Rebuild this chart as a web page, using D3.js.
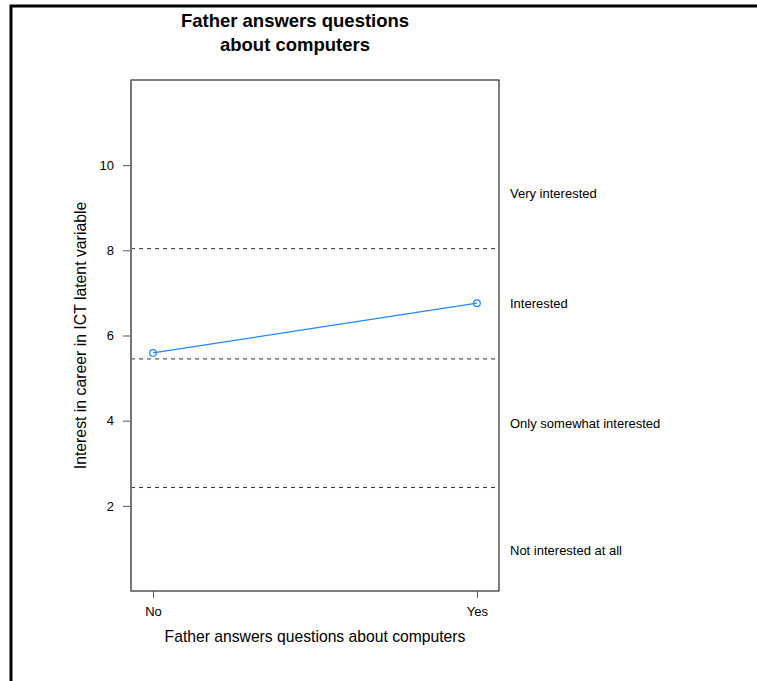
<!DOCTYPE html>
<html>
<head>
<meta charset="utf-8">
<script src="https://cdn.jsdelivr.net/npm/d3@7"></script>
<style>
  html, body { margin: 0; padding: 0; background: #fff; }
  svg { display: block; font-family: "Liberation Sans", Arial, Helvetica, sans-serif; }
</style>
</head>
<body>
<svg id="chart" width="757" height="681"></svg>
<script>
// Predicted latent interest by whether the father answers computer questions
const categories = ["No", "Yes"];
const values = [5.59, 6.76];
const yTicks = [2, 4, 6, 8, 10];
// Cut points between the response categories
const thresholds = [2.43, 5.45, 8.04];
const levelLabels = ["Not interested at all", "Only somewhat interested", "Interested", "Very interested"];
const levelPositions = [0.95, 3.94, 6.75, 9.34];

const svg = d3.select("#chart");
const panel = { left: 131, right: 499, top: 80, bottom: 591 };
const FONT = "'Liberation Sans', Arial, sans-serif";

const x = d3.scaleLinear().domain([0.932, 2.068]).range([panel.left, panel.right]);
const y = d3.scaleLinear().domain([0, 12]).range([panel.bottom, panel.top]);

// Outer figure frame
svg.append("rect")
  .attr("x", 11).attr("y", 6).attr("width", 800).attr("height", 800)
  .attr("fill", "none").attr("stroke", "#000").attr("stroke-width", 3);

// Title
const title = svg.append("text")
  .attr("text-anchor", "middle")
  .attr("font-weight", "bold")
  .attr("font-size", 18.5)
  .attr("fill", "#000");
title.append("tspan").attr("x", 295).attr("y", 27).text("Father answers questions");
title.append("tspan").attr("x", 295).attr("y", 51).text("about computers");

// Panel box
svg.append("rect")
  .attr("x", panel.left).attr("y", panel.top)
  .attr("width", panel.right - panel.left).attr("height", panel.bottom - panel.top)
  .attr("fill", "none").attr("stroke", "#000").attr("stroke-width", 1);

// Threshold lines
svg.append("g").selectAll("line").data(thresholds).join("line")
  .attr("x1", panel.left).attr("x2", panel.right)
  .attr("y1", d => y(d)).attr("y2", d => y(d))
  .attr("stroke", "#333").attr("stroke-width", 1)
  .attr("stroke-dasharray", "4,4");

// Y axis
const yAxis = svg.append("g")
  .attr("transform", `translate(${panel.left},0)`)
  .call(d3.axisLeft(y).tickValues(yTicks).tickSize(8).tickPadding(9).tickFormat(d3.format("d")));
yAxis.select(".domain").remove();
yAxis.selectAll(".tick line").attr("stroke", "#555");
yAxis.selectAll(".tick text").attr("font-size", 13).attr("fill", "#000").attr("font-family", FONT);
svg.append("line")
  .attr("x1", panel.left).attr("x2", panel.left)
  .attr("y1", panel.top).attr("y2", panel.bottom + 0.5)
  .attr("stroke", "#777").attr("stroke-width", 2);

// X axis
const xAxis = svg.append("g")
  .attr("transform", `translate(0,${panel.bottom})`)
  .call(d3.axisBottom(x).tickValues([1, 2]).tickSize(7).tickPadding(9)
    .tickFormat(d => categories[d - 1]));
xAxis.select(".domain").remove();
xAxis.selectAll(".tick line").attr("stroke", "#555");
xAxis.selectAll(".tick text").attr("font-size", 13).attr("fill", "#000").attr("font-family", FONT);

// Axis titles
svg.append("text")
  .attr("x", 315).attr("y", 642)
  .attr("text-anchor", "middle").attr("font-size", 15.7)
  .text("Father answers questions about computers");
svg.append("text")
  .attr("transform", `translate(86,${(panel.top + panel.bottom) / 2}) rotate(-90)`)
  .attr("text-anchor", "middle").attr("font-size", 15.8)
  .text("Interest in career in ICT latent variable");

// Predicted line and points
const pts = values.map((v, i) => ({ xv: i + 1, v }));
svg.append("path")
  .datum(pts)
  .attr("d", d3.line().x(d => x(d.xv)).y(d => y(d.v)))
  .attr("fill", "none").attr("stroke", "#1E88FF").attr("stroke-width", 1.2);
svg.append("g").selectAll("circle").data(pts).join("circle")
  .attr("cx", d => x(d.xv)).attr("cy", d => y(d.v)).attr("r", 3.3)
  .attr("fill", "none").attr("stroke", "#1E88FF").attr("stroke-width", 1.2);

// Category labels on the right
svg.append("g").selectAll("text").data(levelLabels).join("text")
  .attr("x", 510).attr("y", (d, i) => y(levelPositions[i]))
  .attr("dy", "0.35em").attr("font-size", 13).attr("fill", "#000")
  .text(d => d);
</script>
</body>
</html>
